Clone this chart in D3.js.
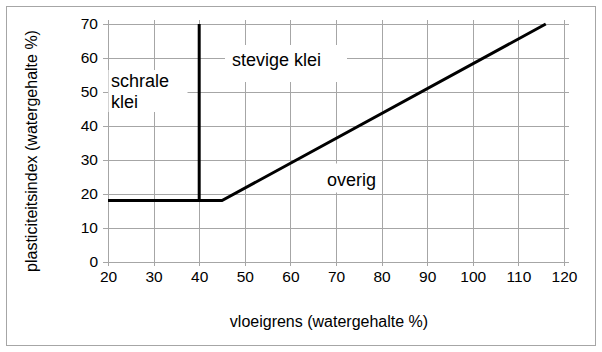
<!DOCTYPE html>
<html>

<head>
    <meta charset="utf-8">
    <title>Plasticiteitsdiagram</title>
    <script type="text/javascript" src="https://d3js.org/d3.v7.min.js"></script>
    <style>
        body { margin: 0; background: #fff; }
        svg { display: block; font-family: "Liberation Sans", Arial, sans-serif; }
    </style>
</head>

<body>
</body>

<script type="text/javascript">
    var w = 602;
    var h = 352;

    // data
    var xTicks = [20, 30, 40, 50, 60, 70, 80, 90, 100, 110, 120];
    var yTicks = [0, 10, 20, 30, 40, 50, 60, 70];
    var grensLijn = [[20, 18], [45, 18], [116, 70]];   // A-lijn
    var scheidingLijn = [[40, 18], [40, 70]];
    var gebieden = ["schrale", "klei", "stevige klei", "overig"];
    var xLabel = "vloeigrens (watergehalte %)";
    var yLabel = "plasticiteitsindex (watergehalte %)";

    var margin = { left: 108, top: 24 };

    var x = d3.scaleLinear().domain([20, 120]).range([0, 456]);
    var y = d3.scaleLinear().domain([0, 70]).range([237.7, 0]);

    var svg = d3.select("body").append("svg").attr("width", w).attr("height", h);

    // outer frame
    svg.append("rect")
        .attr("x", 6.5).attr("y", 6.5)
        .attr("width", 589).attr("height", 339)
        .attr("fill", "none").attr("stroke", "#a6a6a6");

    var g = svg.append("g").attr("transform", "translate(" + margin.left + "," + margin.top + ")");

    // grid + axes
    var xAxis = g.append("g")
        .attr("transform", "translate(0," + y(0) + ")")
        .call(d3.axisBottom(x).tickValues(xTicks).tickSize(-y(0) - 4).tickPadding(9).tickSizeOuter(0));
    var yAxis = g.append("g")
        .call(d3.axisLeft(y).tickValues(yTicks).tickSize(-x(120) - 5).tickPadding(10).tickSizeOuter(0));

    [xAxis, yAxis].forEach(function(a) {
        a.select(".domain").remove();
        a.selectAll(".tick line").attr("stroke", "#a6a6a6").attr("shape-rendering", "crispEdges");
        a.selectAll(".tick text").attr("fill", "#000").style("font-size", "15.5px")
            .style("font-family", "Liberation Sans, Arial, sans-serif");
    });
    xAxis.selectAll(".tick line").attr("y1", 4);
    yAxis.selectAll(".tick line").attr("x1", -5);
    xAxis.selectAll(".tick text").attr("dy", "0.71em");

    // white label boxes
    var boxes = [
        { x: 0.5, y: 46, w: 79, h: 42 },
        { x: 117, y: 21, w: 122, h: 37 },
        { x: 218, y: 139.5, w: 40, h: 29 }
    ];
    g.selectAll("rect.box").data(boxes).enter().append("rect")
        .attr("class", "box")
        .attr("x", function(d) { return d.x; })
        .attr("y", function(d) { return d.y; })
        .attr("width", function(d) { return d.w; })
        .attr("height", function(d) { return d.h; })
        .attr("fill", "#fff");

    // lines
    var line = d3.line()
        .x(function(d) { return x(d[0]); })
        .y(function(d) { return y(d[1]); });
    [grensLijn, scheidingLijn].forEach(function(data) {
        g.append("path")
            .datum(data)
            .attr("d", line)
            .attr("fill", "none")
            .attr("stroke", "#000")
            .attr("stroke-width", 3);
    });

    // region labels
    var labelPos = [[111, 87], [111, 108], [232, 66], [327, 186]];
    svg.selectAll("text.gebied").data(gebieden).enter().append("text")
        .attr("class", "gebied")
        .attr("x", function(d, i) { return labelPos[i][0]; })
        .attr("y", function(d, i) { return labelPos[i][1]; })
        .style("font-size", "18px")
        .text(function(d) { return d; });

    // axis titles
    svg.append("text")
        .attr("x", 329).attr("y", 327)
        .attr("text-anchor", "middle")
        .style("font-size", "16px")
        .text(xLabel);
    svg.append("text")
        .attr("transform", "translate(37,151) rotate(-90)")
        .attr("text-anchor", "middle")
        .style("font-size", "16px")
        .text(yLabel);
</script>
</html>
